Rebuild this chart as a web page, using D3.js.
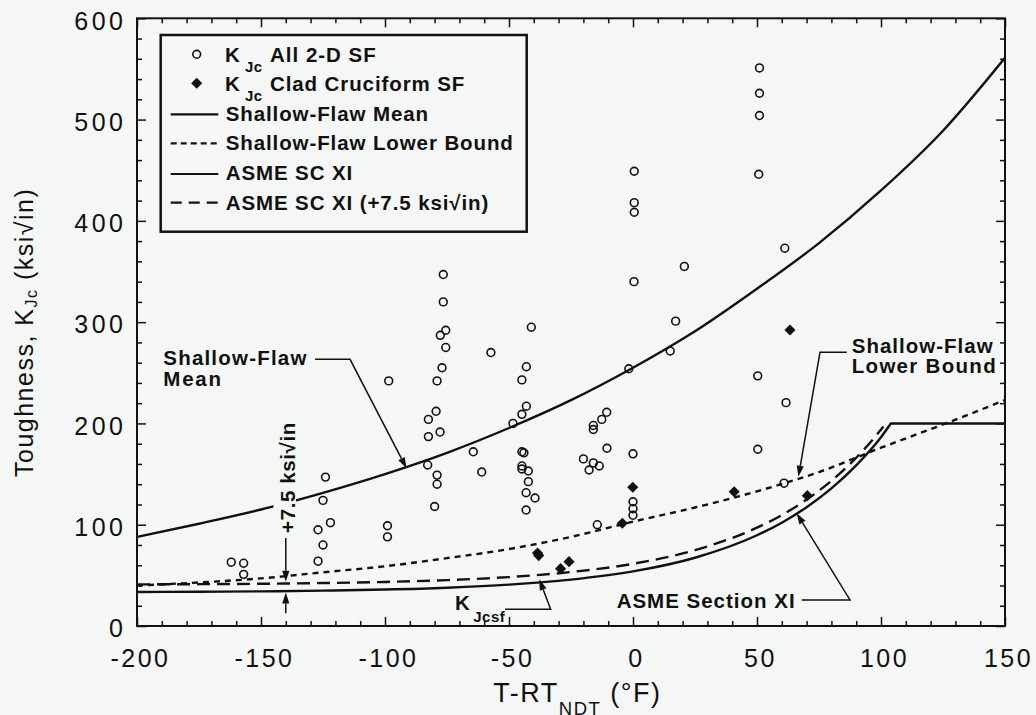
<!DOCTYPE html>
<html>
<head>
<meta charset="utf-8">
<script src="https://cdn.jsdelivr.net/npm/d3@7"></script>
<style>
  html, body { margin: 0; padding: 0; background: #f5f7f6; }
  svg { display: block; font-family: "Liberation Sans", Arial, Helvetica, sans-serif; }
</style>
</head>
<body>
<svg id="chart" width="1036" height="715"></svg>
<script>
// ---- Curves: temperature T-RT_NDT (°F) and toughness (ksi√in) ----
const meanT   = [-200, -175, -150, -125, -100, -75, -50, -25, 0, 25, 50, 75, 100, 125, 150];
const meanK   = [88, 101, 115, 131.5, 150, 171, 195.5, 223, 255, 291, 333, 378, 430, 489, 561];

const lowerT  = [-200, -175, -150, -125, -100, -75, -50, -25, 0, 25, 50, 75, 100, 125, 150];
const lowerK  = [40, 43, 47, 53, 59, 67, 76, 88, 103, 117, 133, 152, 176, 199, 223];

const asmeT   = [-200, -175, -150, -125, -100, -75, -50, -25, 0, 25, 50, 60, 70, 80, 90, 100, 104, 150];
const asmeK   = [33.6, 33.8, 34.2, 34.9, 36.0, 37.8, 40.8, 45.8, 53.9, 67.4, 89.6, 102, 117.3, 135.9, 158.6, 186.4, 200, 200];

const asme75T = [-200, -175, -150, -125, -100, -75, -50, -25, 0, 25, 50, 60, 70, 80, 90, 100, 101];
const asme75K = [41.1, 41.3, 41.7, 42.4, 43.5, 45.3, 48.3, 53.3, 61.4, 74.9, 97.1, 109.5, 124.8, 143.4, 166.1, 193.9, 197];

// ---- Test data ----
// K_Jc, all 2-D shallow-flaw specimens
const sfT = [-162, -157, -157, -124, -125, -122, -127, -125, -127, -99, -99, -98.5,
             -76.5, -76.5, -75.5, -77.7, -75.5, -77, -79, -79.4, -82.5, -77.8, -82.5, -82.8, -79, -79, -80,
             -57.3, -64.4, -61,
             -41, -43, -44.8, -43, -44.8, -48.4, -44.8, -44, -44.8, -44.8, -42.2, -42.2, -43.1, -39.5, -43.1,
             -16, -16, -12.6, -10.6, -10.5, 0, -20, -16, -17.7, -13.6, 0, 0, 0, -14.4,
             0.5, 0.5, 0.5, 20.7, 0.4, 17.2, 15, -1.7,
             51, 51, 51, 50.7, 61.2, 50.3, 61.7, 50.3, 60.9];
const sfK = [63, 62, 51, 147, 124, 102, 95, 80, 64, 99, 88, 242,
             347, 320, 292, 287, 275, 255, 242, 212, 204, 191.5, 187, 159, 149, 140, 118,
             270, 172, 152,
             295, 256, 243, 217, 209, 200, 172, 171, 158, 155, 153, 142.5, 131.6, 126.4, 114.5,
             198, 194, 204, 211, 175.5, 170, 165, 161, 154, 158, 122.7, 115.8, 109.3, 100,
             449, 418, 408.5, 355, 340, 301, 271.5, 254,
             551, 526, 504, 446, 373, 247, 220.5, 174.5, 141];

// K_Jc, clad cruciform shallow-flaw specimens
const cruT = [-38.5, -38, -25.8, -29.2, -4.3, -0.1, 40.8, 63.3, 70.3];
const cruK = [72, 69.5, 63.5, 56.6, 101.4, 137, 132.6, 292.3, 128.7];

// ---- Axis ticks ----
const tMajor = [-200, -150, -100, -50, 0, 50, 100, 150];
const kMajor = [0, 100, 200, 300, 400, 500, 600];

// ---- Layout ----
const BG = "#f5f7f6";
const INK = "#111";
const svg = d3.select("#chart");
svg.append("rect").attr("width", 1036).attr("height", 715).attr("fill", BG);

const x = d3.scaleLinear().domain([-200, 150]).range([137, 1005]);
const y = d3.scaleLinear().domain([0, 600]).range([626, 18.3]);

const tMinor = d3.range(-200, 151, 10).filter(v => !tMajor.includes(v));
const kMinor = d3.range(0, 601, 20).filter(v => !kMajor.includes(v));

// clip for plot area
svg.append("defs").append("clipPath").attr("id", "plotClip")
  .append("rect").attr("x", x(-200)).attr("y", y(600))
  .attr("width", x(150) - x(-200)).attr("height", y(0) - y(600));

// ---- Axes (ticks pointing inward on all four sides) ----
function styleAxis(g) {
  g.select(".domain").remove();
  g.selectAll(".tick line").attr("stroke", INK).attr("stroke-width", 1.5);
}
const bottomMaj = svg.append("g").attr("transform", `translate(0,${y(0)})`)
  .call(d3.axisBottom(x).tickValues(tMajor).tickSize(-9).tickPadding(0).tickFormat(d3.format("d")));
styleAxis(bottomMaj);
bottomMaj.selectAll("text")
  .attr("y", 40.7).attr("dy", 0).attr("dx", 3)
  .attr("fill", INK).attr("font-size", 25).attr("letter-spacing", 2.5)
  .attr("font-family", "Liberation Sans, Arial, sans-serif")
  .text(d => (d < 0 ? "-" : "") + Math.abs(d));

const bottomMin = svg.append("g").attr("transform", `translate(0,${y(0)})`)
  .call(d3.axisBottom(x).tickValues(tMinor).tickSize(-5).tickFormat(""));
styleAxis(bottomMin);

const topMaj = svg.append("g").attr("transform", `translate(0,${y(600)})`)
  .call(d3.axisTop(x).tickValues(tMajor).tickSize(-9).tickFormat(""));
styleAxis(topMaj);
const topMin = svg.append("g").attr("transform", `translate(0,${y(600)})`)
  .call(d3.axisTop(x).tickValues(tMinor).tickSize(-5).tickFormat(""));
styleAxis(topMin);

const leftMaj = svg.append("g").attr("transform", `translate(${x(-200)},0)`)
  .call(d3.axisLeft(y).tickValues(kMajor).tickSize(-9).tickPadding(0).tickFormat(d3.format("d")));
styleAxis(leftMaj);
leftMaj.selectAll("text")
  .attr("x", -10.5).attr("y", 10.8).attr("dy", 0)
  .attr("fill", INK).attr("font-size", 25).attr("letter-spacing", 3.5)
  .attr("font-family", "Liberation Sans, Arial, sans-serif");
const leftMin = svg.append("g").attr("transform", `translate(${x(-200)},0)`)
  .call(d3.axisLeft(y).tickValues(kMinor).tickSize(-5).tickFormat(""));
styleAxis(leftMin);

const rightMaj = svg.append("g").attr("transform", `translate(${x(150)},0)`)
  .call(d3.axisRight(y).tickValues(kMajor).tickSize(-9).tickFormat(""));
styleAxis(rightMaj);
const rightMin = svg.append("g").attr("transform", `translate(${x(150)},0)`)
  .call(d3.axisRight(y).tickValues(kMinor).tickSize(-5).tickFormat(""));
styleAxis(rightMin);

// ---- Curves ----
const plot = svg.append("g").attr("clip-path", "url(#plotClip)");
const zip = (a, b) => a.map((v, i) => [v, b[i]]);
const smooth = d3.line().x(d => x(d[0])).y(d => y(d[1])).curve(d3.curveMonotoneX);

function curve(pts, dash) {
  plot.append("path").attr("d", smooth(pts))
    .attr("fill", "none").attr("stroke", INK).attr("stroke-width", 2.4)
    .attr("stroke-dasharray", dash || null);
}

curve(zip(meanT, meanK));
curve(zip(lowerT, lowerK), "6,5");
curve(zip(asme75T, asme75K), "13,7");
// ASME Section XI: exponential rise, then the 200 ksi√in upper shelf
const asmePts = zip(asmeT, asmeK);
const capIdx = asmeK.indexOf(200);
const shelf = asmePts.slice(capIdx);
plot.append("path")
  .attr("d", smooth(asmePts.slice(0, capIdx + 1)) + shelf.slice(1).map(p => `L${x(p[0])},${y(p[1])}`).join(""))
  .attr("fill", "none").attr("stroke", INK).attr("stroke-width", 2.4).attr("stroke-linejoin", "miter");

// ---- Frame ----
svg.append("rect").attr("x", x(-200)).attr("y", y(600))
  .attr("width", x(150) - x(-200)).attr("height", y(0) - y(600))
  .attr("fill", "none").attr("stroke", INK).attr("stroke-width", 2);

// ---- Annotations ----
const ann = svg.append("g");
function leader(points) {
  // points in data units; the last one is the arrow tip
  const px = points.map(p => [x(p[0]), y(p[1])]);
  const tip = px[px.length - 1], prev = px[px.length - 2];
  const ang = Math.atan2(tip[1] - prev[1], tip[0] - prev[0]);
  const L = 11, W = 3.6;
  const base = [tip[0] - L * Math.cos(ang), tip[1] - L * Math.sin(ang)];
  const line = px.slice(0, -1).concat([base]);
  ann.append("path").attr("d", d3.line()(line))
    .attr("fill", "none").attr("stroke", INK).attr("stroke-width", 1.5);
  const nx = -Math.sin(ang), ny = Math.cos(ang);
  ann.append("path")
    .attr("d", `M${tip[0]},${tip[1]}L${base[0] + nx * W},${base[1] + ny * W}L${base[0] - nx * W},${base[1] - ny * W}Z`)
    .attr("fill", INK);
}
function label(txt, T, K, opts = {}) {
  return ann.append("text").attr("x", x(T)).attr("y", y(K))
    .attr("font-size", opts.size || 20.5).attr("font-weight", opts.weight || "bold")
    .attr("letter-spacing", opts.ls == null ? 1.1 : opts.ls)
    .attr("text-anchor", opts.anchor || "start").attr("fill", INK).text(txt);
}

// Shallow-flaw mean
label("Shallow-Flaw", -189.4, 257.7, { ls: 1.2 });
label("Mean", -189.4, 237, { ls: 1.8 });
leader([[-128.2, 263.3], [-114.1, 263.3], [-91.3, 155.7]]);

// Shallow-flaw lower bound
label("Shallow-Flaw", 88.2, 269.3, { ls: 1.0 });
label("Lower Bound", 88.2, 249.5, { ls: 1.3 });
leader([[86.2, 270.2], [75.4, 270.2], [66.7, 147.4]]);

// ASME Section XI
label("ASME Section XI", -6.6, 17.5, { ls: 1.0 });
leader([[68, 25.7], [87.5, 25.7], [66, 111.3]]);

// K_Jcsf
label("K", -71.8, 15.8, { ls: 0 });
label("Jcsf", -64.4, 4.3, { size: 15, ls: 0.5 });
leader([[-51.6, 16.5], [-33.2, 16.5], [-37.8, 46.1]]);

// +7.5 ksi√in offset between the ASME curve and its shifted copy
const offT = -136.3, offK = 146.6;
ann.append("rect")
  .attr("x", x(offT) - 21.5).attr("y", y(offK) - 55)
  .attr("width", 22.5).attr("height", 110).attr("fill", BG);
ann.append("text")
  .attr("transform", `translate(${x(offT)},${y(offK)}) rotate(-90)`)
  .attr("text-anchor", "middle").attr("font-size", 20.5).attr("font-weight", "bold")
  .attr("letter-spacing", 0.6).attr("fill", INK).text("+7.5 ksi√in");
leader([[-140, 86.9], [-140, 43.8]]);
leader([[-140, 12.5], [-140, 33]]);

// ---- Data markers ----
const marks = svg.append("g");
marks.selectAll("circle").data(zip(sfT, sfK)).join("circle")
  .attr("cx", d => x(d[0])).attr("cy", d => y(d[1])).attr("r", 3.9)
  .attr("fill", "none").attr("stroke", INK).attr("stroke-width", 1.6);
const diamond = d3.symbol(d3.symbolSquare, 62);
marks.selectAll("path.dia").data(zip(cruT, cruK)).join("path").attr("class", "dia")
  .attr("d", diamond)
  .attr("transform", d => `translate(${x(d[0])},${y(d[1])}) rotate(45)`)
  .attr("fill", INK);

// ---- Legend ----
const lg = svg.append("g");
lg.append("rect").attr("x", 160.7).attr("y", 35).attr("width", 366).attr("height", 196.7)
  .attr("fill", BG).attr("stroke", INK).attr("stroke-width", 2.5);
function lgText(txt, tx, ty, size, ls) {
  lg.append("text").attr("x", tx).attr("y", ty).attr("font-size", size).attr("font-weight", "bold")
    .attr("letter-spacing", ls).attr("fill", INK).text(txt);
}
// markers
lg.append("circle").attr("cx", 196.7).attr("cy", 54.3).attr("r", 3.9)
  .attr("fill", "none").attr("stroke", INK).attr("stroke-width", 1.6);
lg.append("path").attr("d", diamond).attr("transform", "translate(196.7,83.3) rotate(45)").attr("fill", INK);
lgText("K", 225, 61.7, 20.5, 0); lgText("Jc", 245, 71.7, 15, 0.3); lgText("All 2-D SF", 270, 61.7, 20.5, 1);
lgText("K", 225, 91, 20.5, 0); lgText("Jc", 245, 101, 15, 0.3); lgText("Clad Cruciform SF", 270, 91, 20.5, 0.9);
// line samples
const lgRows = [
  { yy: 114.3, ty: 120.7, dash: null, txt: "Shallow-Flaw Mean" },
  { yy: 143.3, ty: 150, dash: "6,4", txt: "Shallow-Flaw Lower Bound" },
  { yy: 174, ty: 180, dash: null, txt: "ASME SC XI" },
  { yy: 202.7, ty: 210, dash: "11,7", txt: "ASME SC XI (+7.5 ksi√in)" }
];
lgRows.forEach(r => {
  lg.append("line").attr("x1", 170.7).attr("x2", 218.3).attr("y1", r.yy).attr("y2", r.yy)
    .attr("stroke", INK).attr("stroke-width", 2.2).attr("stroke-dasharray", r.dash);
  lgText(r.txt, 225.7, r.ty, 20.5, 0.9);
});

// ---- Axis titles ----
const xt = svg.append("text").attr("x", 493.3).attr("y", 701.7).attr("fill", INK).attr("letter-spacing", 1.5);
xt.append("tspan").attr("font-size", 27).text("T-RT");
xt.append("tspan").attr("font-size", 18.5).attr("dy", 13).text("NDT");
xt.append("tspan").attr("font-size", 27).attr("dy", -13).text(" (°F)");

const yt = svg.append("text").attr("transform", "translate(33,477) rotate(-90)")
  .attr("fill", INK).attr("letter-spacing", 1.5);
yt.append("tspan").attr("font-size", 25).text("Toughness, K");
yt.append("tspan").attr("font-size", 16).attr("dy", 4).text("Jc");
yt.append("tspan").attr("font-size", 25).attr("dy", -4).text(" (ksi√in)");
</script>
</body>
</html>
